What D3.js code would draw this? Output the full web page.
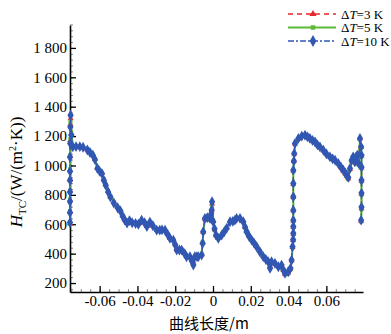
<!DOCTYPE html>
<html>
<head>
<meta charset="utf-8">
<script src="https://cdn.jsdelivr.net/npm/d3@7"></script>
<style>
  html, body { margin: 0; padding: 0; background: #fff; }
  svg text { font-family: "Liberation Serif", "Times New Roman", serif; }
</style>
</head>
<body>
<svg id="chart" width="391" height="334"></svg>
<script>
// curve length along the wall (m)
const lengthM = [
  -0.0757,-0.0757,-0.0757,-0.0757,-0.0757,-0.0757,-0.0757,-0.0756,-0.0755,-0.0754,
  -0.0750,-0.0742,-0.0725,-0.0705,-0.0688,-0.0665,-0.0651,-0.0636,-0.0625,-0.0612,
  -0.0600,-0.0588,-0.0578,-0.0568,-0.0555,-0.0543,-0.0525,-0.0505,-0.0490,-0.0478,
  -0.0468,-0.0455,-0.0442,-0.0428,-0.0410,-0.0395,-0.0378,-0.0362,-0.0350,-0.0334,
  -0.0318,-0.0298,-0.0282,-0.0270,-0.0254,-0.0240,-0.0228,-0.0210,-0.0200,-0.0192,
  -0.0178,-0.0166,-0.0150,-0.0140,-0.0122,-0.0112,-0.0104,-0.0096,-0.0085,-0.0078,
  -0.0060,-0.0055,-0.0052,-0.0043,-0.0030,-0.0016,-0.0010,-0.0007,-0.0005,0.0001,
  0.0008,0.0016,0.0028,0.0046,0.0060,0.0072,0.0090,0.0105,0.0116,0.0125,
  0.0143,0.0160,0.0170,0.0178,0.0190,0.0205,0.0218,0.0231,0.0248,0.0266,
  0.0280,0.0292,0.0302,0.0310,0.0328,0.0346,0.0363,0.0372,0.0381,0.0398,
  0.0410,0.0416,0.0421,0.0424,0.0425,0.0425,0.0425,0.0425,0.0425,0.0425,
  0.0425,0.0428,0.0430,0.0434,0.0452,0.0470,0.0487,0.0500,0.0513,0.0527,
  0.0540,0.0553,0.0566,0.0584,0.0600,0.0619,0.0633,0.0646,0.0663,0.0677,
  0.0690,0.0700,0.0707,0.0716,0.0725,0.0734,0.0742,0.0751,0.0758,0.0764,
  0.0771,0.0778,0.0784,0.0786,0.0786,0.0786,0.0786,0.0786,0.0784
];

// heat transfer coefficient, W/(m2 K)
const htc3K = [
  605,685,765,828,902,970,1065,1170,1280,1320,
  1220,1132,1130,1129,1125,1108,1090,1072,1043,985,
  962,948,904,870,825,788,750,715,692,658,
  632,610,626,612,608,603,625,611,588,613,
  589,561,561,561,559,532,506,494,462,427,
  428,426,402,382,375,355,345,380,382,382,
  395,475,547,635,648,635,665,694,740,622,
  565,523,507,528,552,575,618,622,630,642,
  642,620,582,552,522,495,473,450,416,382,
  362,348,315,343,332,313,313,288,262,270,
  295,353,444,492,534,582,624,693,784,874,
  964,1028,1080,1148,1182,1199,1205,1195,1183,1169,
  1160,1138,1126,1102,1078,1057,1042,1033,1011,986,
  963,945,930,912,975,1033,1055,1020,1055,1065,
  1010,1182,1124,1065,985,895,806,708,622
];

const htc5K = [
  600,690,770,830,905,975,1070,1180,1290,1300,
  1230,1135,1132,1130,1126,1110,1092,1075,1045,990,
  965,950,908,872,828,790,752,718,694,660,
  635,612,628,615,610,606,622,612,590,612,
  588,562,562,560,558,535,508,496,465,430,
  430,428,405,385,372,360,368,382,385,384,
  400,480,545,630,650,630,660,690,720,630,
  560,520,510,530,555,578,620,625,632,645,
  645,622,585,555,525,498,476,452,420,385,
  365,350,330,340,330,315,305,285,258,262,
  290,350,440,490,530,580,620,690,780,870,
  960,1025,1078,1145,1180,1198,1204,1194,1182,1168,
  1158,1136,1124,1100,1075,1055,1040,1030,1008,982,
  958,940,925,905,970,1030,1050,1015,1050,1060,
  1005,1180,1120,1060,980,890,800,700,618
];

const htc10K = [
  612,680,755,820,900,960,1057,1150,1262,1342,
  1206,1127,1128,1128,1124,1105,1088,1070,1040,980,
  960,945,900,866,820,785,745,712,690,655,
  630,608,625,610,605,600,628,610,585,615,
  590,560,560,562,560,530,504,492,460,424,
  425,424,400,379,379,350,322,379,380,379,
  390,470,549,640,645,640,670,697,753,617,
  570,526,504,526,550,572,617,620,628,640,
  640,617,580,549,520,492,470,447,413,379,
  360,345,300,345,334,311,322,290,266,277,
  300,356,447,495,538,585,628,696,787,878,
  968,1030,1082,1150,1184,1200,1206,1195,1184,1170,
  1161,1140,1127,1104,1080,1059,1045,1036,1014,990,
  968,950,934,919,980,1036,1059,1025,1060,1070,
  1014,1184,1127,1070,989,900,812,717,628
];

const seriesNames = ["3 K", "5 K", "10 K"];
const xTicks = [-0.06, -0.04, -0.02, 0, 0.02, 0.04, 0.06];
const yTicks = [200, 400, 600, 800, 1000, 1200, 1400, 1600, 1800];

const series = [
  { name: seriesNames[0], values: htc3K, color: "#e8262b", dash: "5,4", symbol: d3.symbolTriangle, size: 16, width: 1.4 },
  { name: seriesNames[1], values: htc5K, color: "#5db834", dash: null, symbol: d3.symbolSquare, size: 14, width: 2 },
  { name: seriesNames[2], values: htc10K, color: "#3157b3", dash: "6,2,2,2", symbol: d3.symbolDiamond, size: 34, width: 1.4 }
];

const svg = d3.select("#chart");
const plotLeft = 70, plotRight = 363, plotTop = 25, plotBottom = 292;

const x = d3.scaleLinear().domain([-0.0757, 0.0794]).range([plotLeft, plotRight]);
const y = d3.scaleLinear().domain([139, 1956]).range([plotBottom, plotTop]);

const loc = d3.formatLocale({ decimal: ".", thousands: " ", grouping: [3], currency: ["", ""], minus: "-" });
const fmtY = loc.format(",");
const fmtX = d => d === 0 ? "0" : loc.format(".2f")(d);

// minor ticks
svg.append("g")
  .attr("transform", `translate(0,${plotBottom})`)
  .call(d3.axisBottom(x).tickValues(d3.range(-0.075, 0.0795, 0.005)).tickSize(-3).tickFormat(""))
  .call(g => g.select(".domain").remove())
  .call(g => g.selectAll("line").attr("stroke", "#888"));
svg.append("g")
  .attr("transform", `translate(${plotLeft},0)`)
  .call(d3.axisLeft(y).tickValues(d3.range(160, 1961, 40)).tickSize(-3).tickFormat(""))
  .call(g => g.select(".domain").remove())
  .call(g => g.selectAll("line").attr("stroke", "#888"));

// major axes
const xAxis = svg.append("g")
  .attr("transform", `translate(0,${plotBottom})`)
  .call(d3.axisBottom(x).tickValues(xTicks).tickSizeInner(-6).tickSizeOuter(0).tickPadding(3).tickFormat(fmtX));
const yAxis = svg.append("g")
  .attr("transform", `translate(${plotLeft},0)`)
  .call(d3.axisLeft(y).tickValues(yTicks).tickSizeInner(-6).tickSizeOuter(0).tickPadding(3).tickFormat(fmtY));

[xAxis, yAxis].forEach(g => {
  g.select(".domain").attr("stroke", "#000").attr("stroke-width", 1.6);
  g.selectAll(".tick line").attr("stroke", "#000").attr("stroke-width", 1.3);
  g.selectAll(".tick text").attr("fill", "#000").style("font-size", "15px")
    .style("font-family", '"Liberation Serif", "Times New Roman", serif');
});

// curves
const line = d3.line().x(d => x(d[0])).y(d => y(d[1]));

series.forEach(s => {
  const pts = lengthM.map((v, i) => [v, s.values[i]]);
  const g = svg.append("g");
  g.append("path")
    .datum(pts)
    .attr("d", line)
    .attr("fill", "none")
    .attr("stroke", s.color)
    .attr("stroke-width", s.width)
    .attr("stroke-dasharray", s.dash);
  g.selectAll("path.mk")
    .data(pts)
    .join("path")
    .attr("class", "mk")
    .attr("transform", d => `translate(${x(d[0])},${y(d[1])})`)
    .attr("d", d3.symbol().type(s.symbol).size(s.size))
    .attr("fill", s.color);
});

// axis titles
svg.append("text")
  .attr("x", 209)
  .attr("y", 329)
  .attr("text-anchor", "middle")
  .style("font-family", '"Noto Sans CJK SC", sans-serif')
  .style("font-size", "15px")
  .text("曲线长度/m");

const yt = svg.append("text")
  .attr("transform", "translate(22,172) rotate(-90)")
  .attr("text-anchor", "middle")
  .style("font-size", "17px");
yt.append("tspan").style("font-style", "italic").text("H");
yt.append("tspan").attr("dy", 4).style("font-size", "11px").text("TC");
yt.append("tspan").attr("dy", -4).text("/(W/(m");
yt.append("tspan").attr("dy", -6).style("font-size", "10px").text("2");
yt.append("tspan").attr("dy", 6).text("·K))");

// legend
const legend = svg.append("g");
series.forEach((s, i) => {
  const ly = 14 + i * 13.5;
  legend.append("line")
    .attr("x1", 288).attr("x2", 336)
    .attr("y1", ly).attr("y2", ly)
    .attr("stroke", s.color)
    .attr("stroke-width", s.width)
    .attr("stroke-dasharray", s.dash);
  legend.append("path")
    .attr("transform", `translate(313,${ly})`)
    .attr("d", d3.symbol().type(s.symbol).size(s.size + 6))
    .attr("fill", s.color);
  const t = legend.append("text")
    .attr("x", 341).attr("y", ly + 4.5)
    .style("font-size", "13px");
  t.append("tspan").text("Δ");
  t.append("tspan").style("font-style", "italic").text("T");
  t.append("tspan").text("=" + s.name);
});
</script>
</body>
</html>
